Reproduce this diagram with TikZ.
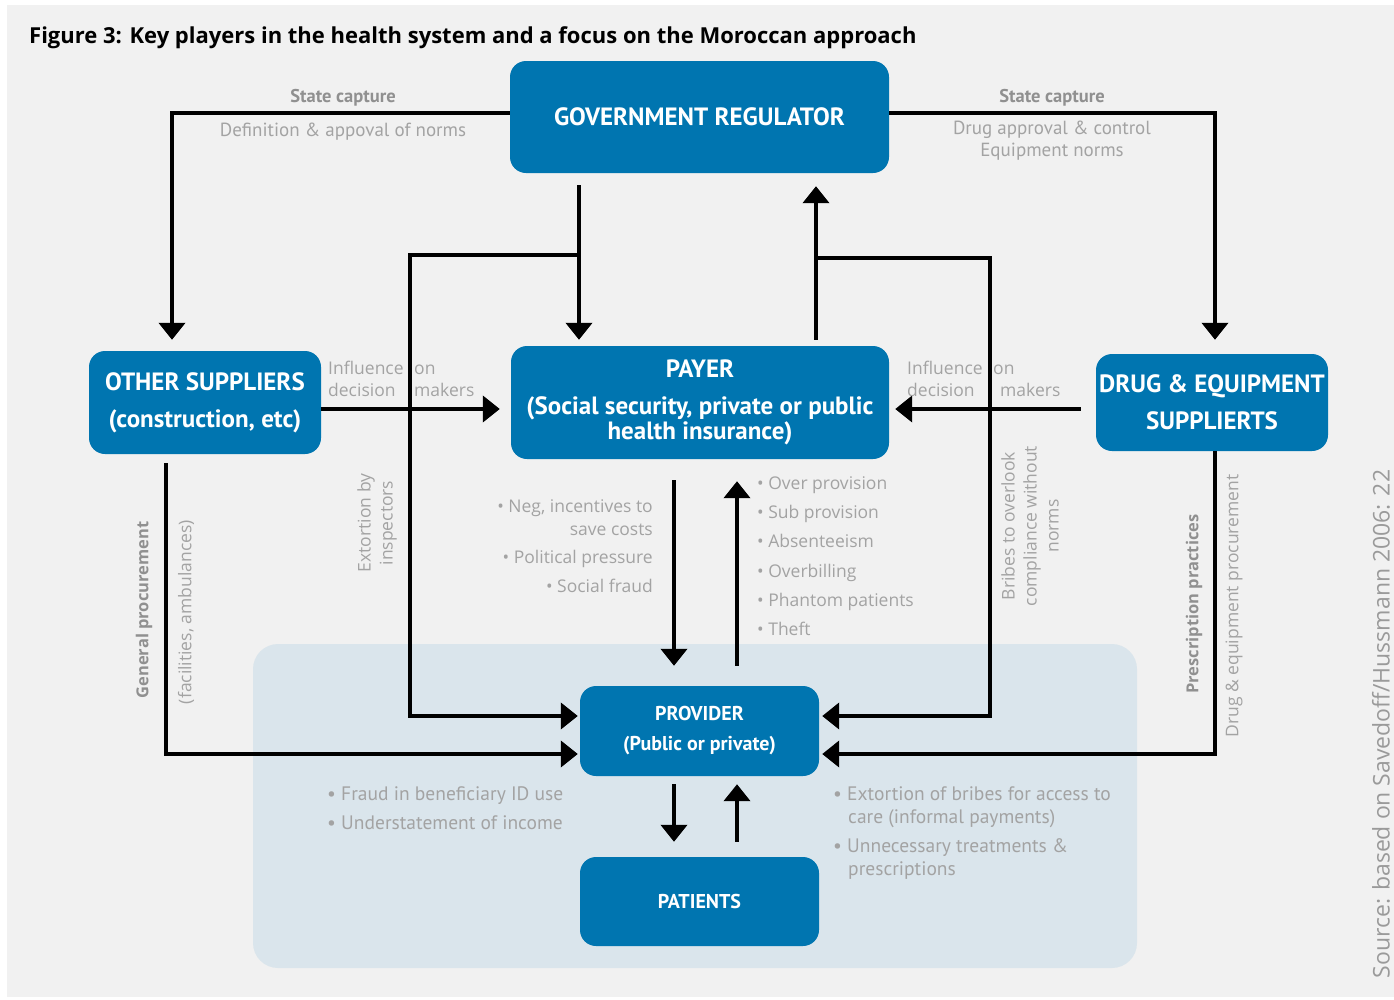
\documentclass[tikz,border=0pt]{standalone}
\usepackage{fontspec}
\setmainfont{Open Sans}
\newfontfamily\pts{PT Sans}
\newfontfamily\ops{Open Sans}
\usetikzlibrary{arrows.meta}
\definecolor{boxblue}{HTML}{0075B0}
\definecolor{zoneblue}{HTML}{DAE5EC}
\definecolor{bggray}{HTML}{F1F1F1}
\definecolor{lblgray}{HTML}{A3A3A3}
\definecolor{boldgray}{HTML}{909090}
\definecolor{srcgray}{HTML}{9A9A9A}
\tikzset{
  box/.style={fill=boxblue, rounded corners=16pt, text=white, align=center, inner sep=0pt,
    font=\pts\bfseries\fontsize{25}{37}\selectfont},
  conn/.style={line width=4pt, -{Triangle[length=17pt,width=26pt]}},
  dinlbl/.style={text=lblgray, inner sep=0pt, font=\pts\fontsize{19.5}{22}\selectfont},
  toplbl/.style={text=lblgray, inner sep=0pt, font=\pts\fontsize{19}{22}\selectfont},
  oslbl/.style={text=lblgray, inner sep=0pt, font=\ops\fontsize{17.5}{22}\selectfont},
  boldlbl/.style={text=boldgray, inner sep=0pt, font=\pts\bfseries\fontsize{18.5}{22}\selectfont},
  osbold/.style={text=boldgray, inner sep=0pt, font=\ops\bfseries\fontsize{16.5}{22}\selectfont},
}
\begin{document}
\begin{tikzpicture}[x=1pt,y=-1pt]
\useasboundingbox (0,0) rectangle (1394,999);
\fill[white] (0,0) rectangle (1394,999);
\fill[bggray] (7,5) rectangle (1394,997);

% title
\node[anchor=base west, inner sep=0pt, font=\ops\bfseries\fontsize{22}{24}\selectfont] (title) at (29,43)
  {Figure 3: Key players in the health system and a focus on the Moroccan approach};

% zone
\node[fill=zoneblue, rounded corners=25pt, minimum width=884pt, minimum height=324pt, inner sep=0pt] (zone) at (695,806) {};

% boxes
\node[box, minimum width=379pt, minimum height=112pt] (gov) at (699.5,117) {GOVERNMENT REGULATOR};
\node[box, minimum width=232pt, minimum height=103pt] (other) at (205,402.5) {OTHER SUPPLIERS\\(construction, etc)};
\node[box, minimum width=378pt, minimum height=113pt, font=\pts\bfseries\fontsize{25}{23}\selectfont] (payer) at (700,402.5) {\lineskiplimit=-20pt\lineskip=0pt PAYER\\[14pt](Social security, private or public\\health insurance)};
\node[box, minimum width=232pt, minimum height=97pt] (drug) at (1212,402.5) {DRUG \& EQUIPMENT\\SUPPLIERTS};
\node[box, minimum width=239pt, minimum height=90pt, font=\pts\bfseries\fontsize{20}{30}\selectfont] (provider) at (699.5,731) {PROVIDER\\(Public or private)};
\node[box, minimum width=239pt, minimum height=89pt, font=\pts\bfseries\fontsize{20}{30}\selectfont] (patients) at (699.5,901.5) {PATIENTS};

% helper coordinates
\coordinate (tlc) at (172,113);
\coordinate (trc) at (1215,113);
\coordinate (gd) at (579,0);
\coordinate (b1) at (579,255);
\coordinate (b2) at (410,255);
\coordinate (pu) at (816,0);
\coordinate (b3) at (816,258);
\coordinate (b4) at (990,258);
\coordinate (od) at (166,0);
\coordinate (dd) at (1215,0);
\coordinate (l1) at (674,0);
\coordinate (l2) at (737,0);

% connectors
\draw[conn, shorten >=11pt] (gov.west|-tlc) -- (tlc) -- (tlc|-other.north);
\draw[conn, shorten >=14pt] (gov.east|-trc) -- (trc) -- (trc|-drug.north);
\draw[conn, shorten <=12pt, shorten >=6pt] (gd|-gov.south) -- (gd|-payer.north);
\draw[conn, shorten >=2pt] (b1) -- (b2) |- ([yshift=15pt]provider.west);
\draw[conn, shorten <=6pt, shorten >=13pt] (pu|-payer.north) -- (pu|-gov.south);
\draw[conn, shorten >=3pt] (b3) -- (b4) |- ([yshift=15pt]provider.east);
\draw[conn, shorten >=11pt] ([yshift=-6.5pt]other.east) -- ([yshift=-6.5pt]payer.west);
\draw[conn, shorten <=15pt, shorten >=6pt] ([yshift=-6.5pt]drug.west) -- ([yshift=-6.5pt]payer.east);
\draw[conn, shorten <=9pt, shorten >=2pt] (od|-other.south) |- ([yshift=-23pt]provider.west);
\draw[conn, shorten >=3pt] (dd|-drug.south) |- ([yshift=-23pt]provider.east);
\draw[conn, shorten <=21pt, shorten >=20pt] (l1|-payer.south) -- (l1|-provider.north);
\draw[conn, shorten <=20pt, shorten >=22pt] (l2|-provider.north) -- (l2|-payer.south);
\draw[conn, shorten <=8pt, shorten >=15pt] (l1|-provider.south) -- (l1|-patients.north);
\draw[conn, shorten <=15pt, shorten >=8pt] (l2|-patients.north) -- (l2|-provider.south);

% top labels
\node[boldlbl] (sc1) at (343,98) {State capture};
\node[toplbl] (dn1) at (343,132) {Definition \& appoval of norms};
\node[boldlbl] (sc2) at (1052,98) {State capture};
\node[toplbl, align=center] (dn2) at (1052,141) {Drug approval \& control\\Equipment norms};

% influence labels
\node[oslbl, anchor=base west, align=left] (inf1) at (328,396) {Influence\\decision};
\node[oslbl, anchor=base west, align=left] (inf2) at (414,396) {on\\makers};
\node[oslbl, anchor=base west, align=left] (inf3) at (907,396) {Influence\\decision};
\node[oslbl, anchor=base west] (inf4) at (993,374) {on};
\node[oslbl, anchor=base west] (inf5) at (1000,396) {makers};

% rotated labels
\node[osbold, rotate=90] (gp) at (144,610) {General procurement};
\node[oslbl, rotate=90] (fa) at (186,612) {(facilities, ambulances)};
\node[oslbl, rotate=90, align=center] (ext) at (377,523) {Extortion by\\inspectors};
\node[oslbl, rotate=90, align=center] (bri) at (1030,526) {Bribes to overlook\\compliance without\\norms};
\node[osbold, rotate=90] (pp) at (1194,604) {Prescription practices};
\node[oslbl, rotate=90] (dep) at (1234,606) {Drug \& equipment procurement};
\node[text=srcgray, inner sep=0pt, rotate=90, font=\ops\fontsize{23}{26}\selectfont] (src) at (1381,724) {Source: based on Savedoff/Hussmann 2006: 22};

% payer-provider lists
\node[oslbl, anchor=base east] (n1) at (653,512) {• Neg, incentives to};
\node[oslbl, anchor=base east] (n2) at (653,535) {save costs};
\node[oslbl, anchor=base east] (n3) at (653,563) {• Political pressure};
\node[oslbl, anchor=base east] (n4) at (653,592) {• Social fraud};

\node[oslbl, anchor=base west] (r1) at (757,489) {• Over provision};
\node[oslbl, anchor=base west] (r2) at (757,518) {• Sub provision};
\node[oslbl, anchor=base west] (r3) at (757,547) {• Absenteeism};
\node[oslbl, anchor=base west] (r4) at (757,577) {• Overbilling};
\node[oslbl, anchor=base west] (r5) at (757,606) {• Phantom patients};
\node[oslbl, anchor=base west] (r6) at (757,635) {• Theft};

% provider-patients lists
\node[dinlbl, anchor=base west] (f1) at (327,800) {• Fraud in beneficiary ID use};
\node[dinlbl, anchor=base west] (f2) at (327,829) {• Understatement of income};
\node[dinlbl, anchor=base west] (e1) at (833,800) {• Extortion of bribes for access to};
\node[dinlbl, anchor=base west] (e2) at (848,823) {care (informal payments)};
\node[dinlbl, anchor=base west] (e3) at (833,852) {• Unnecessary treatments \&};
\node[dinlbl, anchor=base west] (e4) at (848,875) {prescriptions};
\end{tikzpicture}
\end{document}
